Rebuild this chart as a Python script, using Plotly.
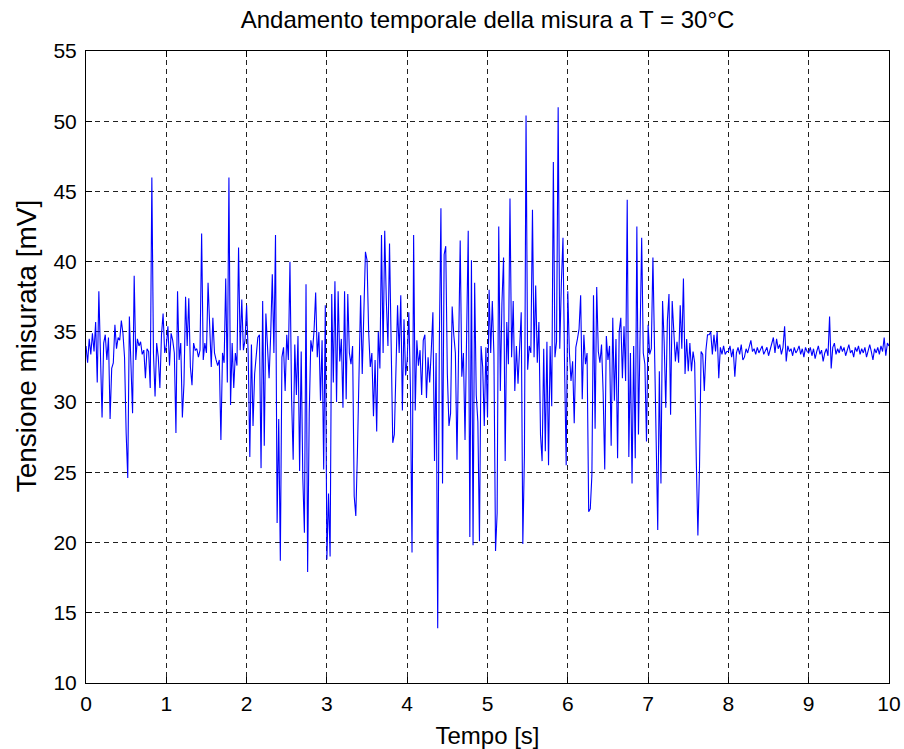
import numpy as np
import plotly.graph_objects as go

# sample period [s]
dt = 0.02

v_s0 = [34.0, 32.8, 34.5, 33.4, 34.9, 33.6, 35.7, 31.4, 37.9, 33.2,
        28.9, 34.2, 34.8, 33.0, 34.6, 28.8, 32.4, 32.8, 35.5, 33.8,
        34.6, 34.4, 35.8, 34.9, 33.2, 27.8, 24.6, 36.1, 33.0, 29.2,
        39.0, 33.0, 34.5, 34.0, 34.3, 33.4, 33.7, 31.7, 33.8, 33.6,
        31.0, 46.0, 33.5, 30.4, 34.2, 33.2, 31.0, 34.8, 36.3, 33.5]
v_s1 = [34.0, 35.4, 32.6, 34.9, 34.4, 33.5, 27.8, 37.9, 33.0, 34.2,
        28.9, 31.3, 37.5, 34.0, 37.4, 32.5, 31.2, 34.2, 33.7, 33.8,
        33.2, 33.7, 42.0, 33.0, 34.2, 33.5, 38.5, 34.9, 32.5, 36.0,
        33.5, 33.0, 32.6, 33.0, 27.3, 33.5, 32.8, 38.8, 31.4, 46.0,
        29.8, 34.2, 31.0, 33.5, 32.6, 41.0, 33.7, 37.3, 33.7, 34.4]
v_s2 = [36.9, 33.4, 26.1, 34.1, 28.3, 32.0, 33.2, 34.6, 34.8, 25.3,
        37.2, 26.9, 36.3, 34.4, 31.7, 34.8, 39.1, 33.5, 41.9, 21.4,
        28.8, 18.7, 33.2, 33.9, 30.8, 34.8, 33.0, 40.0, 30.3, 25.9,
        34.1, 30.5, 34.7, 25.1, 33.6, 24.6, 20.7, 38.4, 17.9, 29.2,
        34.4, 33.6, 35.1, 37.8, 33.2, 35.0, 30.1, 34.4, 25.2, 36.9]
v_s3 = [18.8, 23.5, 19.0, 37.7, 31.4, 38.6, 30.0, 37.9, 32.9, 34.5,
        29.6, 37.9, 30.2, 37.7, 33.5, 32.7, 34.0, 23.3, 21.9, 26.4,
        33.0, 37.6, 32.0, 36.7, 40.7, 40.1, 35.0, 32.5, 33.5, 29.0,
        33.0, 27.9, 35.0, 32.4, 41.9, 33.5, 42.2, 37.2, 34.0, 41.3,
        32.7, 27.1, 27.7, 33.0, 36.9, 33.5, 37.6, 29.4, 35.9, 31.9]
v_s4 = [33.0, 36.4, 31.0, 19.3, 41.9, 29.4, 34.4, 32.6, 33.7, 30.5,
        34.4, 34.8, 30.3, 33.2, 31.4, 33.7, 36.4, 25.8, 33.5, 13.9,
        34.1, 43.8, 24.2, 40.5, 41.1, 32.0, 28.3, 29.2, 36.8, 34.8,
        33.5, 25.9, 32.5, 41.5, 31.8, 33.5, 27.3, 36.9, 42.2, 20.4,
        40.1, 19.8, 38.5, 30.5, 28.6, 20.1, 34.0, 32.5, 28.3, 33.9]
v_s5 = [28.9, 38.0, 33.5, 37.2, 33.4, 19.4, 22.1, 42.5, 30.8, 37.1,
        40.3, 25.8, 35.7, 32.7, 44.5, 33.2, 37.2, 30.8, 34.0, 31.3,
        34.5, 36.4, 19.9, 26.3, 50.4, 32.3, 34.0, 33.5, 43.7, 33.2,
        38.3, 32.8, 35.7, 27.7, 25.8, 33.8, 26.5, 34.3, 25.5, 34.0,
        29.7, 47.1, 33.2, 34.3, 51.0, 33.8, 38.5, 41.7, 32.5, 25.5]
v_s6 = [37.9, 33.5, 31.5, 32.9, 28.5, 33.9, 34.5, 35.2, 37.6, 30.2,
        34.8, 32.7, 33.5, 22.2, 22.4, 24.8, 37.6, 28.1, 38.2, 33.6,
        32.8, 34.1, 30.7, 25.2, 34.7, 33.0, 34.0, 26.9, 36.0, 30.1,
        34.5, 26.0, 35.0, 36.0, 31.7, 35.4, 31.5, 44.4, 26.1, 33.5,
        24.2, 34.0, 26.0, 42.5, 27.7, 33.9, 41.7, 33.5, 32.7, 27.2]
v_s7 = [35.5, 33.4, 33.8, 40.3, 33.4, 24.8, 20.9, 32.2, 24.2, 37.2,
        34.3, 29.6, 35.8, 37.7, 29.1, 37.2, 35.2, 32.9, 34.3, 32.8,
        36.9, 33.8, 38.8, 32.0, 34.5, 32.2, 34.2, 32.2, 33.6, 32.8,
        25.9, 20.5, 25.3, 33.6, 33.4, 30.8, 33.7, 34.8, 34.8, 35.0,
        33.4, 34.8, 33.6, 35.0, 31.7, 33.9, 33.4, 34.0, 33.4, 33.6]
v_s8 = [33.6, 34.0, 33.2, 33.8, 31.8, 33.5, 33.9, 33.4, 34.1, 33.0,
        33.2, 33.8, 33.5, 33.9, 34.4, 33.6, 33.8, 33.4, 33.9, 33.5,
        33.7, 34.0, 33.4, 33.6, 33.9, 33.3, 33.8, 34.3, 34.6, 33.5,
        34.5, 33.8, 34.1, 33.4, 33.9, 35.4, 32.9, 34.0, 33.6, 33.8,
        33.3, 33.9, 33.5, 33.7, 34.0, 33.4, 33.8, 33.2, 33.9, 33.6]
v_s9 = [33.5, 33.9, 33.3, 33.8, 33.1, 33.6, 34.0, 33.4, 33.7, 32.9,
        33.5, 33.8, 33.3, 36.1, 32.4, 33.9, 34.2, 33.4, 33.8, 33.5,
        34.0, 33.6, 33.9, 33.3, 33.8, 34.1, 33.5, 33.7, 33.2, 33.9,
        33.6, 34.0, 33.4, 33.8, 33.5, 33.9, 33.2, 33.7, 34.1, 33.6,
        33.0, 33.8, 33.5, 33.9, 33.4, 34.0, 33.6, 34.6, 33.3, 34.2]
v_end = [34.0]

x_ticks = [0, 1, 2, 3, 4, 5, 6, 7, 8, 9, 10]
y_ticks = [10, 15, 20, 25, 30, 35, 40, 45, 50, 55]

values = (v_s0 + v_s1 + v_s2 + v_s3 + v_s4 + v_s5 + v_s6 + v_s7 + v_s8
          + v_s9 + v_end)
t = np.arange(len(values)) * dt

font = "Liberation Sans, Arial, Helvetica, sans-serif"

fig = go.Figure(go.Scatter(x=t, y=values, mode="lines",
                           line=dict(color="#0000FF", width=1.1),
                           hoverinfo="skip"))

axis_common = dict(showline=True, linecolor="black", linewidth=1,
                   mirror="ticks", ticks="inside", ticklen=6,
                   tickcolor="black", showgrid=True, gridcolor="#222222",
                   gridwidth=1, griddash="5px,4px", zeroline=False,
                   automargin=False,
                   tickfont=dict(family=font, size=21, color="black"))

fig.update_xaxes(range=[0, 10], tickvals=x_ticks, ticklabelstandoff=2,
                 title=dict(text="Tempo [s]", standoff=12,
                            font=dict(family=font, size=24, color="black")),
                 **axis_common)
fig.update_yaxes(range=[10, 55], tickvals=y_ticks, ticklabelstandoff=4,
                 **axis_common)

fig.update_layout(
    width=904, height=749,
    margin=dict(l=86, r=15, t=51, b=66, autoexpand=False),
    paper_bgcolor="white", plot_bgcolor="white",
    showlegend=False,
    title=dict(text="Andamento temporale della misura a T = 30°C",
               x=0.5, xanchor="center", xref="paper",
               y=0.974, yanchor="middle",
               font=dict(family=font, size=24, color="black")),
    annotations=[dict(text="Tensione misurata [mV]", textangle=-90,
                      xref="paper", yref="paper",
                      x=-0.0745, y=0.533, xanchor="center", yanchor="middle",
                      showarrow=False,
                      font=dict(family=font, size=28, color="black"))],
)

fig.write_html("out.html")
